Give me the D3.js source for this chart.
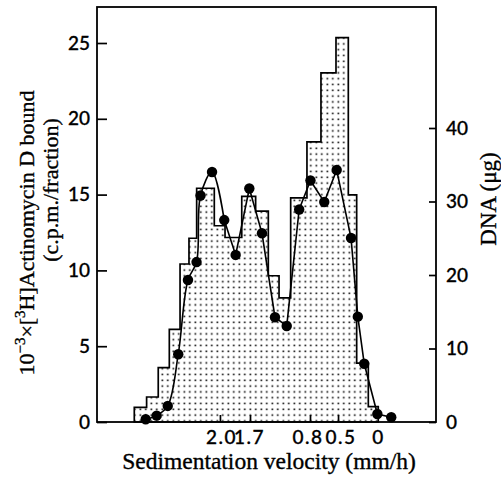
<!DOCTYPE html>
<html><head><meta charset="utf-8">
<script src="https://cdn.jsdelivr.net/npm/d3@7"></script>
<style>
html,body{margin:0;padding:0;background:#fff;}
svg{display:block;}
</style></head>
<body>
<svg id="c" width="501" height="479"></svg>
<script>
// Fraction position (arbitrary linear units along the gradient)
const binEdges = [3.30, 4.39, 5.42, 6.40, 7.35, 8.14, 8.82, 10.38, 11.33, 12.81, 14.04, 15.16, 16.11, 17.14, 18.58, 19.82, 21.15, 22.24, 22.98, 24.01, 24.89];
// DNA (µg) per bin (right axis)
const dnaValues = [2.0, 3.4, 7.4, 12.6, 21.5, 25.0, 31.8, 26.7, 25.1, 30.7, 28.7, 19.9, 16.9, 30.5, 38.1, 47.5, 52.3, 30.9, 8.0, 2.1];
// [3H]Actinomycin D bound (10^-3 c.p.m./fraction), left axis
const pointX = [4.31, 5.28, 6.26, 7.19, 8.05, 8.81, 9.16, 10.18, 11.26, 12.27, 13.48, 14.60, 15.75, 16.79, 17.89, 18.89, 20.11, 21.21, 22.48, 23.08, 23.65, 24.81, 26.04];
const actValues = [0.18, 0.42, 1.06, 4.47, 9.37, 10.55, 14.94, 16.49, 13.32, 11.02, 15.40, 12.45, 6.91, 6.33, 14.02, 15.93, 14.51, 16.62, 12.14, 6.95, 3.84, 0.53, 0.31];
const smoothCount = 9; // first points joined by a smooth curve
// Sedimentation velocity ticks and labels
const velocityTickPos = [10.88, 13.54, 18.85, 21.33, 24.82];
const velocityLabelPos = [10.97, 13.45, 18.63, 21.55, 24.87];
const velocityLabels = ["2.0", "1.7", "0.8", "0.5", "0"];
const leftTicks = [0, 5, 10, 15, 20, 25];
const rightTicks = [0, 10, 20, 30, 40];

const svg = d3.select("#c");
const L = 97, R = 436, T = 7, B = 422;
const x = d3.scaleLinear().domain([0, 30]).range([L, R]);
const yL = d3.scaleLinear().domain([0, 25]).range([B, 43]);
const yR = d3.scaleLinear().domain([0, 40]).range([B, 128]);

const defs = svg.append("defs");
const pat = defs.append("pattern").attr("id", "dots").attr("patternUnits", "userSpaceOnUse")
  .attr("width", 5.5).attr("height", 5.8).attr("x", 0.5).attr("y", 1);
pat.append("rect").attr("x", 1.5).attr("y", 1.5).attr("width", 1.6).attr("height", 1.6).attr("fill", "#000");

// histogram outline
const pts = [[x(binEdges[0]), yR(0)]];
dnaValues.forEach((v, i) => {
  pts.push([x(binEdges[i]), yR(v)]);
  pts.push([x(binEdges[i + 1]), yR(v)]);
});
pts.push([x(binEdges[binEdges.length - 1]), yR(0)]);
svg.append("path").attr("d", d3.line()(pts) + "Z")
  .attr("fill", "url(#dots)").attr("stroke", "#000").attr("stroke-width", 1.7).attr("stroke-linejoin", "miter");

// curve
const data = pointX.map((d, i) => [x(d), yL(actValues[i])]);
svg.append("path").attr("d", d3.line().curve(d3.curveCatmullRom.alpha(0.5))(data.slice(0, smoothCount)))
  .attr("fill", "none").attr("stroke", "#000").attr("stroke-width", 1.6);
svg.append("path").attr("d", d3.line()(data.slice(smoothCount - 1)))
  .attr("fill", "none").attr("stroke", "#000").attr("stroke-width", 1.6);
svg.selectAll("circle.p").data(data).join("circle").attr("class", "p")
  .attr("cx", d => d[0]).attr("cy", d => d[1]).attr("r", 5.2).attr("fill", "#000");

// frame
svg.append("rect").attr("x", L).attr("y", T).attr("width", R - L).attr("height", B - T)
  .attr("fill", "none").attr("stroke", "#000").attr("stroke-width", 1.8);

const tickFont = "Lato, 'Open Sans', sans-serif";
const ax1 = svg.append("g").attr("transform", `translate(${L},0)`)
  .call(d3.axisLeft(yL).tickValues(leftTicks).tickSizeInner(-10).tickSizeOuter(0).tickPadding(7));
const ax2 = svg.append("g").attr("transform", `translate(${R},0)`)
  .call(d3.axisRight(yR).tickValues(rightTicks).tickSizeInner(-7).tickSizeOuter(0).tickPadding(10));
const ax3 = svg.append("g").attr("transform", `translate(0,${B})`)
  .call(d3.axisBottom(x).tickValues(velocityTickPos.slice(0, 4)).tickFormat("").tickSizeInner(-7).tickSizeOuter(0));
const ax4 = svg.append("g").attr("transform", `translate(0,${B})`)
  .call(d3.axisBottom(x).tickValues(velocityLabelPos).tickFormat((d, i) => velocityLabels[i]).tickSize(0).tickPadding(9));
ax4.selectAll("line").remove();
[ax1, ax2, ax3, ax4].forEach(g => {
  g.select(".domain").remove();
  g.selectAll("line").attr("stroke", "#000").attr("stroke-width", 1.7);
  g.selectAll("text").attr("fill", "#000").attr("stroke", "#000").attr("stroke-width", 0.3)
    .style("font-family", tickFont).style("font-size", "19px").style("font-weight", "500");
});
ax4.selectAll("text").style("letter-spacing", "1.5px");

const serif = "'Liberation Serif', 'Times New Roman', serif";
function title(sel) {
  return sel.attr("text-anchor", "middle").style("font-family", serif).attr("fill", "#000")
    .attr("stroke", "#000").attr("stroke-width", 0.35);
}
// left title
const t1 = title(svg.append("text").attr("transform", "translate(34,233) rotate(-90)")).style("font-size", "22px");
t1.append("tspan").text("10");
t1.append("tspan").attr("dy", -9).style("font-size", "15px").text("\u22123");
t1.append("tspan").attr("dy", 9).text("\u00d7[");
t1.append("tspan").attr("dy", -9).style("font-size", "15px").text("3");
t1.append("tspan").attr("dy", 9).text("H]Actinomycin D bound");
title(svg.append("text").attr("transform", "translate(58,190) rotate(-90)")).style("font-size", "22px")
  .text("(c.p.m./fraction)");
// right title
title(svg.append("text").attr("transform", "translate(496,199) rotate(-90)")).style("font-size", "23px")
  .text("DNA (\u03bcg)");
// bottom title
title(svg.append("text").attr("x", 269).attr("y", 469)).style("font-size", "23.5px")
  .text("Sedimentation velocity (mm/h)");
</script>
</body></html>
